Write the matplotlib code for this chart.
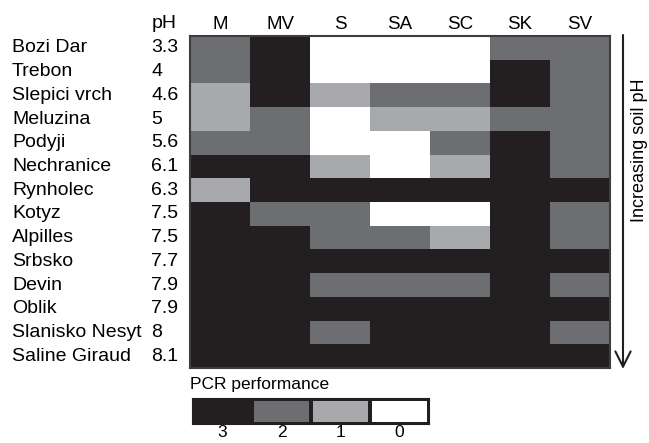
import matplotlib
matplotlib.use("Agg")
import matplotlib.pyplot as plt
import numpy as np
from matplotlib.colors import ListedColormap
from matplotlib.transforms import blended_transform_factory

plt.rcParams['font.family'] = ['Liberation Sans', 'DejaVu Sans']

sites = ["Bozi Dar", "Trebon", "Slepici vrch", "Meluzina", "Podyji", "Nechranice",
         "Rynholec", "Kotyz", "Alpilles", "Srbsko", "Devin", "Oblik",
         "Slanisko Nesyt", "Saline Giraud"]
ph = ["3.3", "4", "4.6", "5", "5.6", "6.1", "6.3", "7.5", "7.5", "7.7", "7.9", "7.9", "8", "8.1"]
columns = ["M", "MV", "S", "SA", "SC", "SK", "SV"]
scores = [
    [2, 3, 0, 0, 0, 2, 2],
    [2, 3, 0, 0, 0, 3, 2],
    [1, 3, 1, 2, 2, 3, 2],
    [1, 2, 0, 1, 1, 2, 2],
    [2, 2, 0, 0, 2, 3, 2],
    [3, 3, 1, 0, 1, 3, 2],
    [1, 3, 3, 3, 3, 3, 3],
    [3, 2, 2, 0, 0, 3, 2],
    [3, 3, 2, 2, 1, 3, 2],
    [3, 3, 3, 3, 3, 3, 3],
    [3, 3, 2, 2, 2, 3, 2],
    [3, 3, 3, 3, 3, 3, 3],
    [3, 3, 2, 3, 3, 3, 2],
    [3, 3, 3, 3, 3, 3, 3],
]
legend_levels = [3, 2, 1, 0]

colors = ["#ffffff", "#a7a9ac", "#6d6e71", "#231f20"]
cmap = ListedColormap(colors)

W, H = 649, 443
fig = plt.figure(figsize=(W / 100, H / 100), dpi=100)

def axrect(x0, y0, x1, y1):
    return [x0 / W, 1 - y1 / H, (x1 - x0) / W, (y1 - y0) / H]

ax = fig.add_axes(axrect(190, 36, 610, 368))
ax.imshow(np.array(scores), cmap=cmap, vmin=-0.5, vmax=3.5, aspect='auto',
          interpolation='nearest')
ax.set_xticks(range(len(columns)))
ax.set_xticklabels(columns, fontsize=13.5)
ax.xaxis.tick_top()
ax.tick_params(axis='x', length=0, pad=2)
ax.set_yticks([])
for s in ax.spines.values():
    s.set_color('#3d3d3d')
    s.set_linewidth(1.5)

tr = blended_transform_factory(fig.transFigure, ax.transData)
for i, (name, p) in enumerate(zip(sites, ph)):
    ax.text(12 / W, i, name, transform=tr, fontsize=14, va='center', ha='left')
    ax.text(151 / W, i, p, transform=tr, fontsize=14, va='center', ha='left')
fig.text(152 / W, 1 - 23 / H, "pH", fontsize=14, va='center', ha='left')

# arrow on right
fig.add_artist(matplotlib.patches.FancyArrowPatch(
    (623 / W, 1 - 35 / H), (623 / W, 1 - 369 / H), transform=fig.transFigure,
    arrowstyle='->,head_length=1.1,head_width=0.55', color='#231f20', lw=1.5,
    mutation_scale=10, shrinkA=0, shrinkB=0))
fig.text(640 / W, 1 - 150 / H, "Increasing soil pH", rotation=90, fontsize=13,
         va='center', ha='center')

# legend
lax = fig.add_axes(axrect(193, 399, 429, 424))
lax.pcolormesh(np.array([legend_levels]), cmap=cmap, vmin=-0.5, vmax=3.5,
               edgecolors='#231f20', linewidth=1.5)
lax.set_xlim(0, 4)
lax.set_ylim(0, 1)
lax.set_xticks(np.arange(4) + 0.5)
lax.set_xticklabels([str(v) for v in legend_levels], fontsize=12.5)
lax.tick_params(axis='x', length=0, pad=1)
lax.set_yticks([])
for s in lax.spines.values():
    s.set_color('#231f20')
    s.set_linewidth(1.5)
fig.text(190 / W, 1 - 385 / H, "PCR performance", fontsize=12.5, va='center', ha='left')

fig.savefig("out.png", dpi=100)
